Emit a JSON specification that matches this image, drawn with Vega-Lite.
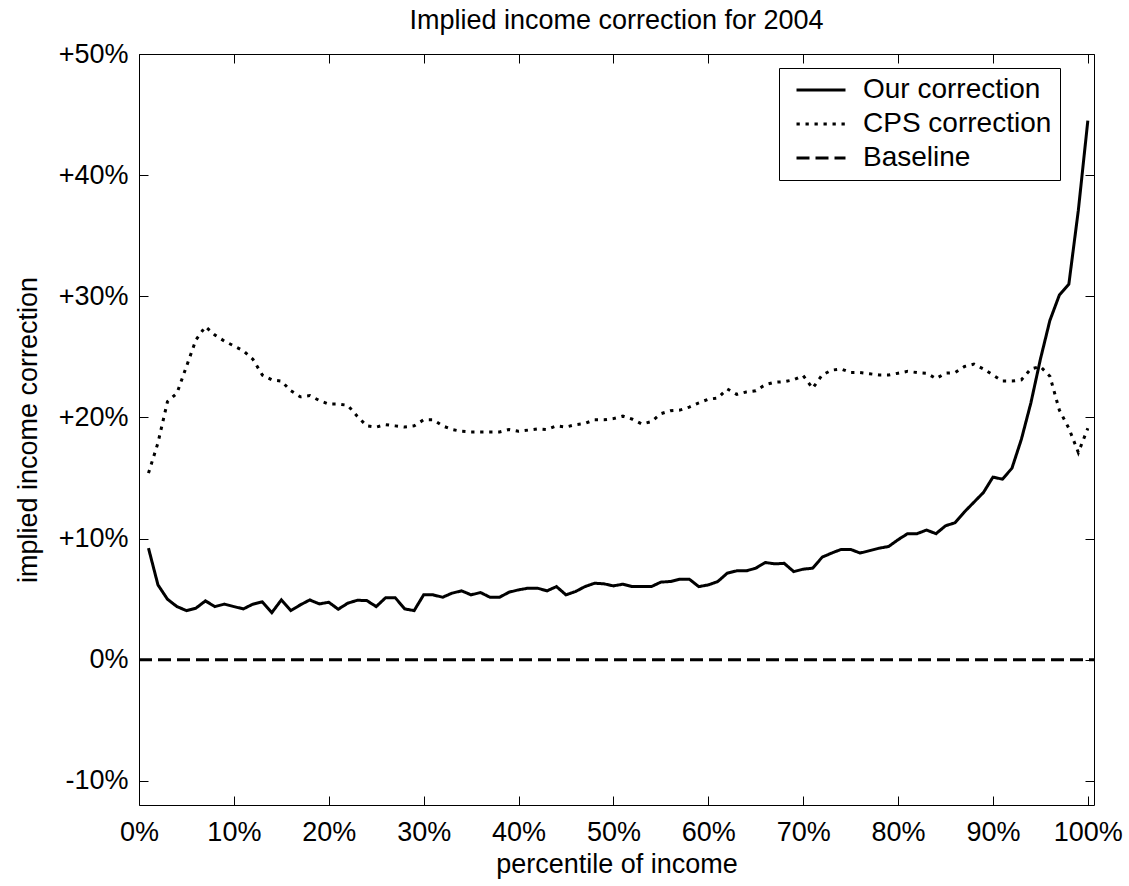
{
  "$schema": "https://vega.github.io/schema/vega-lite/v6.json",
  "width": 955,
  "height": 751,
  "autosize": {"type": "none"},
  "padding": {"left": 139, "top": 54, "right": 35, "bottom": 81},
  "background": "white",
  "config": {
    "view": {"stroke": null},
    "font": "Liberation Sans",
    "axis": {
      "domainColor": "black",
      "domainWidth": 1,
      "tickColor": "black",
      "tickWidth": 1,
      "tickSize": -9,
      "grid": false,
      "labelFlush": false,
      "minExtent": 0,
      "labelFont": "Liberation Sans",
      "labelFontSize": 27,
      "labelColor": "black",
      "titleFont": "Liberation Sans",
      "titleFontSize": 27,
      "titleFontWeight": "normal",
      "titleColor": "black"
    }
  },
  "title": {
    "text": "Implied income correction for 2004",
    "font": "Liberation Sans",
    "fontSize": 27,
    "fontWeight": "normal",
    "color": "black",
    "anchor": "middle",
    "frame": "group",
    "offset": 5
  },
  "resolve": {"axis": {"x": "independent", "y": "independent"}},
  "layer": [
    {
      "data": {
        "values": [
          {"p": 1, "Our correction": 9.2, "CPS correction": 15.4},
          {"p": 2, "Our correction": 6.17, "CPS correction": 17.9},
          {"p": 3, "Our correction": 4.99, "CPS correction": 21.3},
          {"p": 4, "Our correction": 4.38, "CPS correction": 22.0},
          {"p": 5, "Our correction": 4.05, "CPS correction": 24.2},
          {"p": 6, "Our correction": 4.25, "CPS correction": 26.4},
          {"p": 7, "Our correction": 4.85, "CPS correction": 27.5},
          {"p": 8, "Our correction": 4.38, "CPS correction": 26.8},
          {"p": 9, "Our correction": 4.58, "CPS correction": 26.3},
          {"p": 10, "Our correction": 4.38, "CPS correction": 25.9},
          {"p": 11, "Our correction": 4.19, "CPS correction": 25.5},
          {"p": 12, "Our correction": 4.58, "CPS correction": 24.8},
          {"p": 13, "Our correction": 4.77, "CPS correction": 23.5},
          {"p": 14, "Our correction": 3.88, "CPS correction": 23.1},
          {"p": 15, "Our correction": 4.93, "CPS correction": 23.0},
          {"p": 16, "Our correction": 4.05, "CPS correction": 22.2},
          {"p": 17, "Our correction": 4.52, "CPS correction": 21.7},
          {"p": 18, "Our correction": 4.93, "CPS correction": 21.8},
          {"p": 19, "Our correction": 4.6, "CPS correction": 21.4},
          {"p": 20, "Our correction": 4.74, "CPS correction": 21.1},
          {"p": 21, "Our correction": 4.16, "CPS correction": 21.1},
          {"p": 22, "Our correction": 4.66, "CPS correction": 21.0},
          {"p": 23, "Our correction": 4.9, "CPS correction": 20.1},
          {"p": 24, "Our correction": 4.88, "CPS correction": 19.3},
          {"p": 25, "Our correction": 4.38, "CPS correction": 19.2},
          {"p": 26, "Our correction": 5.12, "CPS correction": 19.4},
          {"p": 27, "Our correction": 5.12, "CPS correction": 19.3},
          {"p": 28, "Our correction": 4.19, "CPS correction": 19.2},
          {"p": 29, "Our correction": 4.05, "CPS correction": 19.3},
          {"p": 30, "Our correction": 5.35, "CPS correction": 19.8},
          {"p": 31, "Our correction": 5.35, "CPS correction": 19.8},
          {"p": 32, "Our correction": 5.15, "CPS correction": 19.3},
          {"p": 33, "Our correction": 5.49, "CPS correction": 19.0},
          {"p": 34, "Our correction": 5.68, "CPS correction": 18.85},
          {"p": 35, "Our correction": 5.35, "CPS correction": 18.8},
          {"p": 36, "Our correction": 5.54, "CPS correction": 18.8},
          {"p": 37, "Our correction": 5.15, "CPS correction": 18.8},
          {"p": 38, "Our correction": 5.15, "CPS correction": 18.8},
          {"p": 39, "Our correction": 5.57, "CPS correction": 19.0},
          {"p": 40, "Our correction": 5.76, "CPS correction": 18.85},
          {"p": 41, "Our correction": 5.9, "CPS correction": 18.95},
          {"p": 42, "Our correction": 5.9, "CPS correction": 19.05},
          {"p": 43, "Our correction": 5.68, "CPS correction": 19.0},
          {"p": 44, "Our correction": 6.03, "CPS correction": 19.3},
          {"p": 45, "Our correction": 5.35, "CPS correction": 19.2},
          {"p": 46, "Our correction": 5.62, "CPS correction": 19.4},
          {"p": 47, "Our correction": 6.03, "CPS correction": 19.5},
          {"p": 48, "Our correction": 6.31, "CPS correction": 19.8},
          {"p": 49, "Our correction": 6.26, "CPS correction": 19.8},
          {"p": 50, "Our correction": 6.09, "CPS correction": 19.9},
          {"p": 51, "Our correction": 6.23, "CPS correction": 20.1},
          {"p": 52, "Our correction": 6.03, "CPS correction": 19.85},
          {"p": 53, "Our correction": 6.03, "CPS correction": 19.45},
          {"p": 54, "Our correction": 6.03, "CPS correction": 19.65},
          {"p": 55, "Our correction": 6.4, "CPS correction": 20.3},
          {"p": 56, "Our correction": 6.45, "CPS correction": 20.55},
          {"p": 57, "Our correction": 6.64, "CPS correction": 20.6},
          {"p": 58, "Our correction": 6.64, "CPS correction": 20.85},
          {"p": 59, "Our correction": 6.03, "CPS correction": 21.2},
          {"p": 60, "Our correction": 6.17, "CPS correction": 21.5},
          {"p": 61, "Our correction": 6.45, "CPS correction": 21.6},
          {"p": 62, "Our correction": 7.14, "CPS correction": 22.35},
          {"p": 63, "Our correction": 7.33, "CPS correction": 21.9},
          {"p": 64, "Our correction": 7.33, "CPS correction": 22.1},
          {"p": 65, "Our correction": 7.55, "CPS correction": 22.2},
          {"p": 66, "Our correction": 8.02, "CPS correction": 22.7},
          {"p": 67, "Our correction": 7.91, "CPS correction": 22.9},
          {"p": 68, "Our correction": 7.95, "CPS correction": 22.95},
          {"p": 69, "Our correction": 7.27, "CPS correction": 23.1},
          {"p": 70, "Our correction": 7.47, "CPS correction": 23.45},
          {"p": 71, "Our correction": 7.55, "CPS correction": 22.4},
          {"p": 72, "Our correction": 8.46, "CPS correction": 23.5},
          {"p": 73, "Our correction": 8.8, "CPS correction": 23.9},
          {"p": 74, "Our correction": 9.1, "CPS correction": 24.0},
          {"p": 75, "Our correction": 9.1, "CPS correction": 23.7},
          {"p": 76, "Our correction": 8.8, "CPS correction": 23.7},
          {"p": 77, "Our correction": 9.0, "CPS correction": 23.6},
          {"p": 78, "Our correction": 9.2, "CPS correction": 23.5},
          {"p": 79, "Our correction": 9.34, "CPS correction": 23.5},
          {"p": 80, "Our correction": 9.9, "CPS correction": 23.65},
          {"p": 81, "Our correction": 10.4, "CPS correction": 23.8},
          {"p": 82, "Our correction": 10.4, "CPS correction": 23.7},
          {"p": 83, "Our correction": 10.7, "CPS correction": 23.65},
          {"p": 84, "Our correction": 10.4, "CPS correction": 23.2},
          {"p": 85, "Our correction": 11.05, "CPS correction": 23.65},
          {"p": 86, "Our correction": 11.3, "CPS correction": 23.7},
          {"p": 87, "Our correction": 12.2, "CPS correction": 24.2},
          {"p": 88, "Our correction": 13.0, "CPS correction": 24.4},
          {"p": 89, "Our correction": 13.8, "CPS correction": 24.0},
          {"p": 90, "Our correction": 15.07, "CPS correction": 23.5},
          {"p": 91, "Our correction": 14.9, "CPS correction": 23.0},
          {"p": 92, "Our correction": 15.8, "CPS correction": 23.0},
          {"p": 93, "Our correction": 18.2, "CPS correction": 23.1},
          {"p": 94, "Our correction": 21.2, "CPS correction": 24.0},
          {"p": 95, "Our correction": 24.8, "CPS correction": 24.2},
          {"p": 96, "Our correction": 28.0, "CPS correction": 23.4},
          {"p": 97, "Our correction": 30.1, "CPS correction": 20.6},
          {"p": 98, "Our correction": 31.0, "CPS correction": 19.1},
          {"p": 99, "Our correction": 37.1, "CPS correction": 17.1},
          {"p": 100, "Our correction": 44.5, "CPS correction": 19.1}
        ]
      },
      "transform": [
        {"fold": ["Our correction", "CPS correction"], "as": ["series", "v"]}
      ],
      "mark": {"type": "line", "color": "black", "strokeWidth": 3, "strokeCap": "butt", "clip": true},
      "encoding": {
        "x": {
          "field": "p", "type": "quantitative",
          "scale": {"domain": [0, 100.65], "nice": false, "zero": false},
          "axis": {
            "orient": "bottom",
            "values": [0, 10, 20, 30, 40, 50, 60, 70, 80, 90, 100],
            "labelExpr": "datum.value + '%'",
            "labelPadding": 23,
            "title": "percentile of income",
            "titlePadding": 6
          }
        },
        "y": {
          "field": "v", "type": "quantitative",
          "scale": {"domain": [-12, 50], "nice": false, "zero": false},
          "axis": {
            "orient": "left",
            "values": [-10, 0, 10, 20, 30, 40, 50],
            "labelExpr": "datum.value > 0 ? '+' + datum.value + '%' : datum.value + '%'",
            "labelPadding": 20,
            "title": "implied income correction",
            "titlePadding": 16
          }
        },
        "strokeDash": {
          "field": "series", "type": "nominal",
          "scale": {
            "domain": ["Our correction", "CPS correction", "Baseline"],
            "range": [[1, 0], [3.3, 5.7], [13, 6]]
          },
          "legend": {
            "orient": "none",
            "legendX": 640,
            "legendY": 14,
            "title": null,
            "strokeColor": "black",
            "fillColor": "white",
            "padding": 8,
            "symbolType": "stroke",
            "symbolSize": 2401,
            "symbolStrokeWidth": 3,
            "symbolStrokeColor": "black",
            "clipHeight": 28,
            "rowPadding": 6,
            "symbolOffset": 8,
            "labelOffset": 16,
            "labelLimit": 400,
            "labelFont": "Liberation Sans",
            "labelFontSize": 28,
            "labelColor": "black"
          }
        }
      }
    },
    {
      "data": {
        "values": [
          {"p": 0, "v": 0, "series": "Baseline"},
          {"p": 100.65, "v": 0, "series": "Baseline"}
        ]
      },
      "mark": {"type": "line", "color": "black", "strokeWidth": 3, "strokeCap": "butt"},
      "encoding": {
        "x": {
          "field": "p", "type": "quantitative",
          "axis": {
            "orient": "top",
            "values": [0, 10, 20, 30, 40, 50, 60, 70, 80, 90, 100],
            "labels": false,
            "title": null,
            "minExtent": 0,
            "maxExtent": 0
          }
        },
        "y": {
          "field": "v", "type": "quantitative",
          "axis": {
            "orient": "right",
            "values": [-10, 0, 10, 20, 30, 40, 50],
            "labels": false,
            "title": null,
            "minExtent": 0,
            "maxExtent": 0
          }
        },
        "strokeDash": {
          "field": "series", "type": "nominal",
          "scale": {
            "domain": ["Our correction", "CPS correction", "Baseline"],
            "range": [[1, 0], [3.3, 5.7], [13, 6]]
          },
          "legend": {
            "orient": "none",
            "legendX": 640,
            "legendY": 14,
            "title": null,
            "strokeColor": "black",
            "fillColor": "white",
            "padding": 8,
            "symbolType": "stroke",
            "symbolSize": 2401,
            "symbolStrokeWidth": 3,
            "symbolStrokeColor": "black",
            "clipHeight": 28,
            "rowPadding": 6,
            "symbolOffset": 8,
            "labelOffset": 16,
            "labelLimit": 400,
            "labelFont": "Liberation Sans",
            "labelFontSize": 28,
            "labelColor": "black"
          }
        }
      }
    }
  ]
}
